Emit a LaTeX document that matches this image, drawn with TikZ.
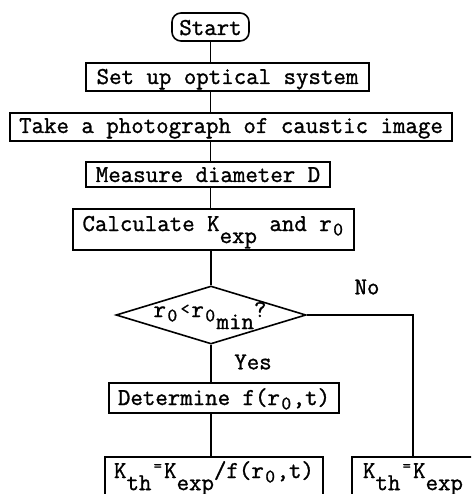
\documentclass[tikz,border=0pt]{standalone}
\usepackage{fontspec}
\newfontfamily\tyfont{Latin Modern Mono}[FakeBold=1.2]
\usetikzlibrary{shapes.geometric}
\newcommand{\lo}[1]{\raisebox{-0.5em}{#1}}
\newcommand{\zr}{\makebox[0.525em]{\raisebox{-0.18em}{\fontsize{19}{19}\selectfont 0}}}
\newcommand{\eqs}{\makebox[0.525em]{\raisebox{0.3em}{\fontsize{16}{16}\selectfont =}}}
\newcommand{\lts}{\makebox[0.525em]{\raisebox{0.12em}{\fontsize{17}{17}\selectfont <}}}
\tikzset{
  tt/.style={font=\tyfont\fontsize{24.2}{28}\selectfont},
  box/.style={tt, draw, line width=1.6pt, inner sep=0pt},
  conn/.style={line width=1.6pt},
}
\begin{document}
\begin{tikzpicture}[x=1pt, y=-1pt]
\path[use as bounding box] (0,0) rectangle (471,494);
\clip (0,0) rectangle (471,494);
\fill[white] (0,0) rectangle (471,494);
\coordinate (spine) at (210.5,0);
\node[box, rounded corners=9pt, minimum width=77pt, text height=22pt, text depth=6pt] (start) at (210.5,27) {Start};
\node[box, minimum width=283pt, text height=21pt, text depth=7pt] (setup) at (227.5,77) {Set up optical system};
\node[box, minimum width=442pt, text height=20pt, text depth=8pt] (take) at (231,127) {Take a photograph of caustic image};
\node[box, minimum width=244pt, text height=20pt, text depth=5pt] (measure) at (208,174.5) {Measure diameter D};
\node[box, minimum width=281pt, text height=22pt, text depth=19pt] (calc) at (213.5,229.5) {Calculate K\lo{exp} and r\zr};
\node[draw, diamond, line width=1.6pt, inner sep=0pt, minimum width=190pt, minimum height=58pt] (dec) at (211,315) {};
\node[tt, inner sep=0pt, anchor=base] (dectext) at (210,317) {r\zr\lts r\zr\lo{min}?};
\node[box, minimum width=230pt, text height=22pt, text depth=8pt] (det) at (224,398) {Determine f(r\zr,t)};
\node[box, minimum width=218pt, text height=21pt, text depth=27pt] (kl) at (214,481) {K\lo{th}\eqs K\lo{exp}/f(r\zr,t)};
\node[box, minimum width=122pt, text height=21pt, text depth=27pt] (kr) at (413,481) {K\lo{th}\eqs K\lo{exp}};
\node[tt, inner sep=0pt] (no) at (367,287) {No};
\node[tt, inner sep=0pt] (yes) at (253,362) {Yes};
\draw[conn] (start.south) -- (setup.north -| spine);
\draw[conn] (setup.south -| spine) -- (take.north -| spine);
\draw[conn] (take.south -| spine) -- (measure.north -| spine);
\draw[conn] (measure.south -| spine) -- (calc.north -| spine);
\draw[conn] (calc.south -| dec.north) -- (dec.north);
\draw[conn] (dec.south) -- (det.north -| dec.south);
\draw[conn] (det.south -| dec.south) -- (kl.north -| dec.south);
\draw[conn] (dec.east) -| (kr.north);
\end{tikzpicture}
\end{document}
